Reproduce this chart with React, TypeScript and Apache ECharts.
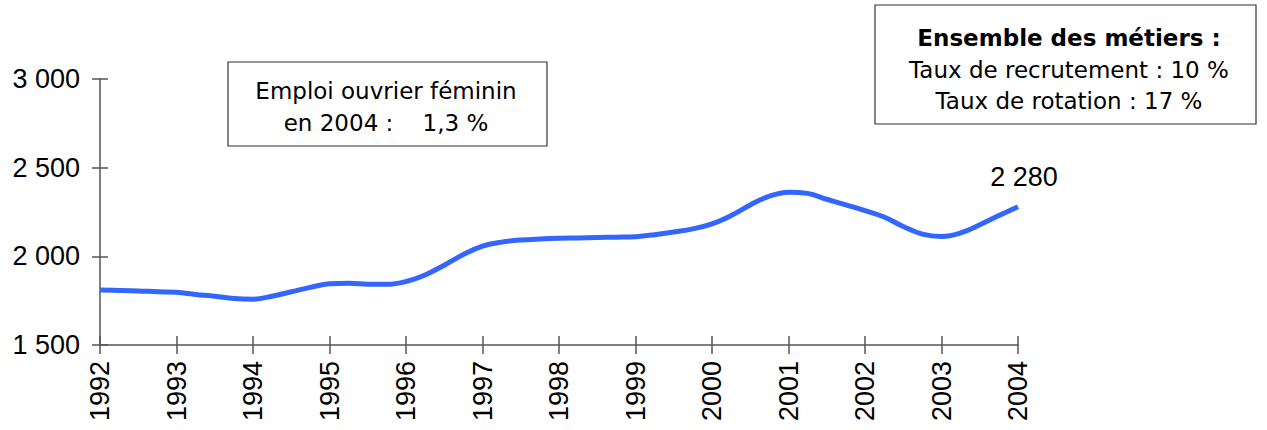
import React, { useEffect, useRef } from "react";
import * as echarts from "echarts";

const quarters: number[] = [
  1992, 1992.25, 1992.5, 1992.75,
  1993, 1993.25, 1993.5, 1993.75,
  1994, 1994.25, 1994.5, 1994.75,
  1995, 1995.25, 1995.5, 1995.75,
  1996, 1996.25, 1996.5, 1996.75,
  1997, 1997.25, 1997.5, 1997.75,
  1998, 1998.25, 1998.5, 1998.75,
  1999, 1999.25, 1999.5, 1999.75,
  2000, 2000.25, 2000.5, 2000.75,
  2001, 2001.25, 2001.5, 2001.75,
  2002, 2002.25, 2002.5, 2002.75,
  2003, 2003.25, 2003.5, 2003.75,
  2004,
];

const emploi: number[] = [
  1810, 1808, 1805, 1800,
  1797, 1785, 1775, 1762,
  1758, 1775, 1800, 1825,
  1845, 1848, 1843, 1842,
  1858, 1895, 1950, 2010,
  2058, 2080, 2092, 2098,
  2102, 2104, 2106, 2108,
  2111, 2122, 2137, 2155,
  2183, 2230, 2290, 2340,
  2362, 2355, 2322, 2290,
  2258, 2222, 2168, 2125,
  2112, 2132, 2178, 2230,
  2280,
];

const yTicks = { min: 1500, max: 3000, interval: 500 };
const xTicks = { min: 1992, max: 2004, interval: 1 };

const lastLabel = "2 280";
const box1Lines = ["Emploi ouvrier féminin", "en 2004 :    1,3 %"];
const box2Title = "Ensemble des métiers :";
const box2Lines = ["Taux de recrutement : 10 %", "Taux de rotation : 17 %"];

const fmtThousands = (v: number) =>
  String(v).replace(/\B(?=(\d{3})+(?!\d))/g, " ");

export default function App() {
  const ref = useRef<HTMLDivElement>(null);
  useEffect(() => {
    if (!ref.current) return;
    const chart = echarts.init(ref.current, null, { renderer: "svg" });
    const axisColor = "#555555";
    const tickFont = { fontFamily: "Liberation Sans", fontSize: 27, color: "#000" };
    const boxFont = "DejaVu Sans";
    const last = quarters.length - 1;
    chart.setOption({
      animation: false,
      backgroundColor: "#ffffff",
      grid: { left: 100, right: 249, top: 79, bottom: 85, containLabel: false },
      xAxis: [
        {
          type: "value",
          ...xTicks,
          position: "bottom",
          axisLine: { show: true, lineStyle: { color: axisColor, width: 1.5 } },
          axisTick: { show: true, length: 9, lineStyle: { color: axisColor, width: 1.5 } },
          axisLabel: { ...tickFont, rotate: 90, margin: 16, formatter: (v: number) => String(v) },
          splitLine: { show: false },
        },
        {
          type: "value",
          ...xTicks,
          position: "bottom",
          axisLine: { show: false },
          axisTick: { show: true, inside: true, length: 9, lineStyle: { color: axisColor, width: 1.5 } },
          axisLabel: { show: false },
          splitLine: { show: false },
        },
      ],
      yAxis: [
        {
          type: "value",
          ...yTicks,
          position: "left",
          axisLine: { show: true, lineStyle: { color: axisColor, width: 1.5 } },
          axisTick: { show: true, length: 8, lineStyle: { color: axisColor, width: 1.5 } },
          axisLabel: { ...tickFont, margin: 20, formatter: (v: number) => fmtThousands(v) },
          splitLine: { show: false },
        },
        {
          type: "value",
          ...yTicks,
          position: "left",
          axisLine: { show: false },
          axisTick: { show: true, inside: true, length: 8, lineStyle: { color: axisColor, width: 1.5 } },
          axisLabel: { show: false },
          splitLine: { show: false },
        },
      ],
      series: [
        {
          type: "line",
          xAxisIndex: 0,
          yAxisIndex: 0,
          data: quarters.map((q, i) => [q, emploi[i]]),
          smooth: 0.4,
          showSymbol: false,
          symbol: "none",
          lineStyle: { color: "#3366FF", width: 5 },
          itemStyle: { color: "#3366FF" },
          markPoint: {
            symbol: "circle",
            symbolSize: 1,
            itemStyle: { color: "rgba(0,0,0,0)" },
            data: [
              {
                coord: [quarters[last], emploi[last]],
                label: {
                  show: true,
                  position: "top",
                  distance: 16,
                  offset: [6, 0],
                  formatter: lastLabel,
                  ...tickFont,
                },
              },
            ],
          },
        },
      ],
      graphic: [
        {
          type: "rect",
          shape: { x: 228, y: 62, width: 319, height: 84 },
          style: { fill: "#fff", stroke: "#333", lineWidth: 1.2 },
        },
        {
          type: "text",
          x: 386,
          y: 91,
          style: { text: box1Lines[0], font: `23px "${boxFont}"`, fill: "#000", textAlign: "center", textVerticalAlign: "middle" },
        },
        {
          type: "text",
          x: 386,
          y: 123,
          style: { text: box1Lines[1], font: `23px "${boxFont}"`, fill: "#000", textAlign: "center", textVerticalAlign: "middle" },
        },
        {
          type: "rect",
          shape: { x: 875, y: 5, width: 381, height: 119 },
          style: { fill: "#fff", stroke: "#333", lineWidth: 1.2 },
        },
        {
          type: "text",
          x: 1069,
          y: 38,
          style: { text: box2Title, font: `bold 23px "${boxFont}"`, fill: "#000", textAlign: "center", textVerticalAlign: "middle" },
        },
        {
          type: "text",
          x: 1069,
          y: 70,
          style: { text: box2Lines[0], font: `23px "${boxFont}"`, fill: "#000", textAlign: "center", textVerticalAlign: "middle" },
        },
        {
          type: "text",
          x: 1069,
          y: 101,
          style: { text: box2Lines[1], font: `23px "${boxFont}"`, fill: "#000", textAlign: "center", textVerticalAlign: "middle" },
        },
      ],
    });
    return () => chart.dispose();
  }, []);
  return (
    <div
      ref={ref}
      style={{ position: "fixed", left: 0, top: 0, width: 1267, height: 430, background: "#fff" }}
    />
  );
}
